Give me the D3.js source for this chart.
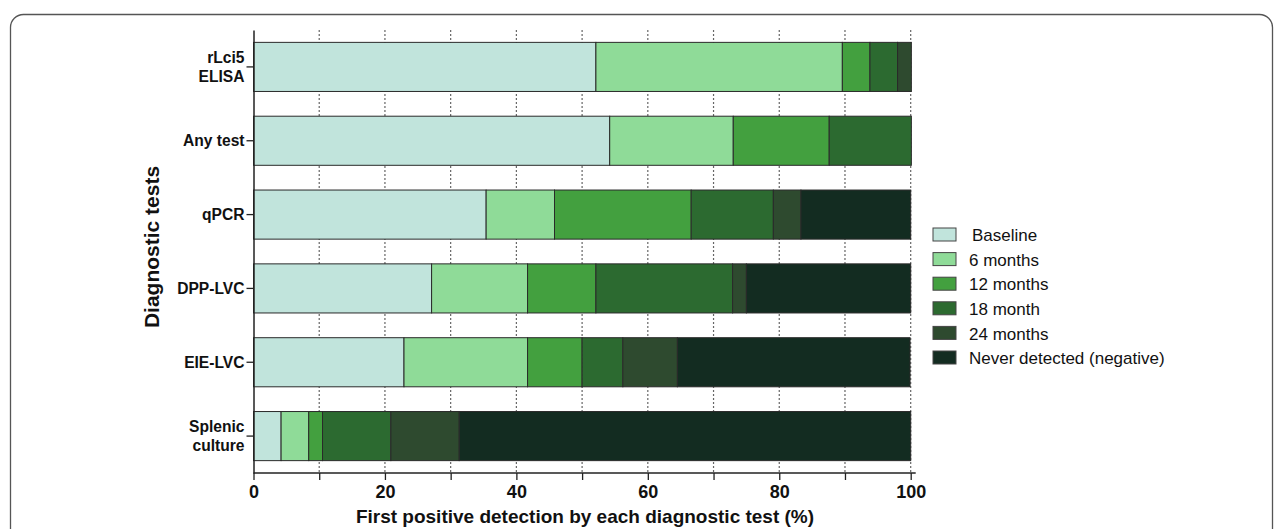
<!DOCTYPE html>
<html>
<head>
<meta charset="utf-8">
<script src="https://cdn.jsdelivr.net/npm/d3@7"></script>
<style>
  body { margin: 0; background: #fff; }
  svg { font-family: "Liberation Sans", Arial, sans-serif; }
</style>
</head>
<body>
<svg id="chart" width="1282" height="529"></svg>
<script>
// tests, top to bottom
var tests = ["rLci5\nELISA", "Any test", "qPCR", "DPP-LVC", "EIE-LVC", "Splenic\nculture"];
var stages = ["Baseline", "6 months", "12 months", "18 month", "24 months", "Never detected (negative)"];
var colors = ["#c1e4dc", "#8fdb98", "#43a03f", "#2c6a30", "#2e4a2f", "#132c21"];

// % of animals first detected at each stage (one array per stage, same order as tests)
var baseline = [52.1, 54.2, 35.4, 27.1, 22.9, 4.2];
var m6       = [37.5, 18.8, 10.4, 14.6, 18.8, 4.2];
var m12      = [4.2, 14.6, 20.8, 10.4, 8.3, 2.1];
var m18      = [4.2, 12.5, 12.5, 20.8, 6.2, 10.4];
var m24      = [2.1, 0, 4.2, 2.1, 8.3, 10.4];
var never    = [0, 0, 16.7, 25.0, 35.4, 68.7];

var xTicks = [0, 20, 40, 60, 80, 100];

var series = [baseline, m6, m12, m18, m24, never];
var rows = tests.map(function(t, i) {
  var r = { test: t };
  stages.forEach(function(s, j) { r[s] = series[j][i]; });
  return r;
});
var stacked = d3.stack().keys(stages)(rows);

var svg = d3.select("#chart");

// card frame
svg.append("rect")
  .attr("x", 10.5).attr("y", 14.5)
  .attr("width", 1262).attr("height", 540)
  .attr("rx", 13).attr("ry", 13)
  .attr("fill", "none")
  .attr("stroke", "#555")
  .attr("stroke-width", 1.3);

var x = d3.scaleLinear().domain([0, 100]).range([253.5, 910.7]);
var y = d3.scaleBand().domain(tests).range([30, 473]).paddingInner(0.335).paddingOuter(0.1675);

// dotted grid
svg.append("g")
  .selectAll("line")
  .data(d3.range(10, 101, 10))
  .join("line")
  .attr("x1", d => x(d)).attr("x2", d => x(d))
  .attr("y1", 30).attr("y2", 473)
  .attr("stroke", "#666")
  .attr("stroke-width", 1.2)
  .attr("stroke-dasharray", "2,2");

// bars
svg.append("g")
  .selectAll("g")
  .data(stacked)
  .join("g")
  .attr("fill", (d, i) => colors[i])
  .selectAll("rect")
  .data(d => d)
  .join("rect")
  .filter(d => d[1] - d[0] > 0)
  .attr("x", d => x(d[0]))
  .attr("width", d => x(d[1]) - x(d[0]))
  .attr("y", d => y(d.data.test))
  .attr("height", y.bandwidth())
  .attr("stroke", "#2a2a2a")
  .attr("stroke-width", 1);

// x axis
var xAxis = svg.append("g")
  .attr("transform", "translate(0,473)")
  .call(d3.axisBottom(x).tickValues(d3.range(0, 101, 10)).tickSize(7)
    .tickFormat(d => xTicks.indexOf(d) >= 0 ? d : "").tickSizeOuter(0));
xAxis.select(".domain").attr("d", "M" + x(0) + ",0H" + (x(100) + 5)).attr("stroke", "#222").attr("stroke-width", 1.5);
xAxis.selectAll(".tick line").attr("stroke", "#222").attr("stroke-width", 1.3);
xAxis.selectAll("text")
  .attr("font-size", 18).attr("font-weight", "bold").attr("fill", "#111")
  .attr("y", 25).attr("dy", null);

// y axis
var yAxis = svg.append("g")
  .attr("transform", "translate(" + x(0) + ",0)")
  .call(d3.axisLeft(y).tickSize(7).tickSizeOuter(0).tickFormat(""));
yAxis.select(".domain").attr("stroke", "#222").attr("stroke-width", 1.5);
yAxis.selectAll(".tick line").attr("stroke", "#222").attr("stroke-width", 1.3);
yAxis.selectAll(".tick").each(function(d) {
  var lines = d.split("\n");
  var t = d3.select(this).append("text")
    .attr("x", -9)
    .attr("text-anchor", "end")
    .attr("font-size", 15.6)
    .attr("font-weight", "bold")
    .attr("fill", "#111");
  lines.forEach(function(l, k) {
    t.append("tspan")
      .attr("x", -9)
      .attr("y", (k - (lines.length - 1) / 2) * 19)
      .attr("dy", "0.35em")
      .text(l);
  });
});

// axis titles
svg.append("text")
  .attr("x", 585)
  .attr("y", 523)
  .attr("text-anchor", "middle")
  .attr("font-size", 19)
  .attr("font-weight", "bold")
  .attr("fill", "#111")
  .text("First positive detection by each diagnostic test (%)");

svg.append("text")
  .attr("transform", "translate(158.5,247) rotate(-90)")
  .attr("text-anchor", "middle")
  .attr("font-size", 21)
  .attr("font-weight", "bold")
  .attr("fill", "#111")
  .text("Diagnostic tests");

// legend
var legend = svg.append("g").attr("transform", "translate(933,228)");
var item = legend.selectAll("g")
  .data(stages)
  .join("g")
  .attr("transform", (d, i) => "translate(0," + i * 24.6 + ")");
item.append("rect")
  .attr("width", 23).attr("height", 13)
  .attr("fill", (d, i) => colors[i])
  .attr("stroke", "#444").attr("stroke-width", 1);
item.append("text")
  .attr("x", (d, i) => i === 0 ? 39 : 36)
  .attr("y", 7)
  .attr("dy", "0.36em")
  .attr("font-size", 17)
  .attr("fill", "#111")
  .text(d => d);
</script>
</body>
</html>
